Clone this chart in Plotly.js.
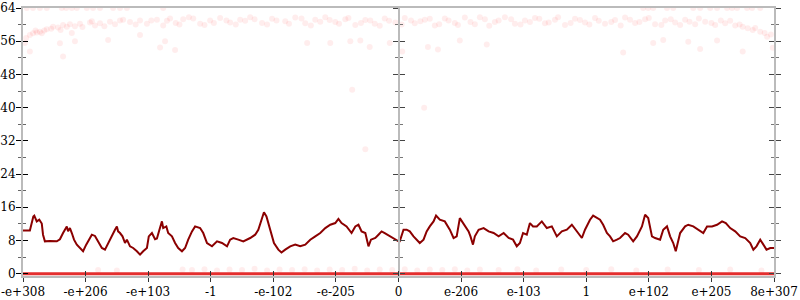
<!DOCTYPE html>
<html>
<head>
<meta charset="utf-8">
<script src="https://cdn.plot.ly/plotly-3.0.1.min.js"></script>
<style>html,body{margin:0;padding:0;background:#fff;}#chart{width:800px;height:300px;}</style>
</head>
<body>
<div id="chart"></div>
<script>
// Tick positions and labels along the x axis
const xTickPos = [0,1,2,3,4,5,6,7,8,9,10,11,12];
const xTickLabels = ["-e+308","-e+206","-e+103","-1","-e-102","-e-205","0","e-206","e-103","1","e+102","e+205","8e+307"];

// Dark red moving line
const lineX = [0,0.11,0.165,0.18,0.22,0.26,0.30,0.32,0.35,0.43,0.54,0.59,0.64,0.67,0.70,0.72,0.75,0.78,0.815,0.86,0.91,0.96,1.01,1.04,1.10,1.15,1.20,1.26,1.31,1.36,1.42,1.47,1.50,1.52,1.55,1.59,1.63,1.66,1.71,1.76,1.82,1.87,1.92,1.98,2.01,2.06,2.11,2.14,2.18,2.22,2.24,2.29,2.32,2.38,2.43,2.48,2.54,2.59,2.64,2.70,2.75,2.83,2.88,2.94,3.02,3.10,3.18,3.26,3.31,3.36,3.44,3.52,3.63,3.71,3.76,3.81,3.85,3.89,3.95,4.01,4.08,4.13,4.19,4.27,4.35,4.43,4.51,4.59,4.67,4.75,4.83,4.91,4.99,5.04,5.09,5.17,5.25,5.31,5.36,5.41,5.47,5.52,5.56,5.63,5.68,5.73,5.78,5.86,5.94,6.0,
  6.02,6.08,6.13,6.18,6.24,6.29,6.34,6.40,6.45,6.50,6.56,6.60,6.66,6.74,6.82,6.88,6.93,6.98,7.03,7.06,7.12,7.15,7.19,7.22,7.28,7.36,7.44,7.52,7.60,7.68,7.76,7.83,7.89,7.94,7.99,8.05,8.10,8.15,8.21,8.29,8.37,8.45,8.53,8.61,8.69,8.77,8.85,8.93,8.98,9.06,9.11,9.19,9.22,9.27,9.33,9.38,9.43,9.49,9.54,9.62,9.67,9.75,9.81,9.89,9.94,9.99,10.05,10.10,10.18,10.23,10.29,10.34,10.39,10.43,10.50,10.58,10.63,10.71,10.79,10.87,10.93,11.01,11.09,11.17,11.23,11.30,11.38,11.46,11.54,11.62,11.67,11.72,11.78,11.83,11.88,11.94,12.0];
const lineY = [10.4,10.4,13.8,14.0,12.6,13.0,12.1,9.4,7.8,7.9,7.8,8.3,9.8,10.8,11.4,10.2,11.0,9.8,8.2,7.0,6.2,5.4,7.0,7.8,9.4,9.1,7.8,6.2,5.8,7.4,9.0,10.6,11.4,10.2,9.8,9.0,7.4,8.2,6.6,6.2,5.4,4.6,5.4,6.2,9.0,9.8,8.3,8.5,10.6,12.6,11.0,11.4,9.8,9.0,7.4,6.2,5.4,6.2,8.2,10.2,11.4,11.0,9.8,7.4,6.6,7.8,7.4,6.6,8.2,8.6,8.2,7.8,8.6,9.4,10.6,13.0,14.8,13.8,10.6,7.4,5.8,5.1,5.8,6.6,7.0,6.6,7.0,8.2,9.0,9.8,11.0,11.8,12.2,13.2,12.2,11.4,9.8,11.4,11.8,10.2,9.8,6.6,8.2,8.6,9.4,10.2,9.8,9.0,8.3,7.8,
  7.8,10.6,10.6,10.2,9.0,8.2,7.4,8.2,10.2,11.4,12.6,14.0,13.0,12.6,10.6,8.6,9.0,13.4,12.2,11.4,10.2,9.0,7.0,9.0,10.6,11.0,10.2,9.8,9.0,9.8,8.6,8.2,6.6,7.4,9.8,9.4,12.2,11.4,11.4,12.6,11.0,11.4,9.0,10.2,10.6,11.8,10.2,8.6,10.6,13.0,14.0,13.4,13.0,11.8,9.8,9.0,7.8,8.2,8.6,9.8,9.4,7.8,9.0,11.4,14.2,13.4,9.0,8.6,8.2,10.6,11.4,9.0,7.4,5.4,9.8,11.4,11.8,11.4,10.6,9.8,11.4,11.4,11.8,12.6,12.2,11.0,10.2,9.0,8.6,7.4,5.8,6.6,8.2,7.0,5.8,6.2,6.2];

// Faint points on the top edge (value 64)
const edgeX = [0.06,0.16,0.27,0.38,0.62,0.69,0.78,0.86,1.02,1.12,1.23,1.44,1.55,1.66,2.24,9.91,9.99,10.07,10.29,10.39,10.71,10.82,10.98,11.09,11.25,11.33,11.41,11.57,11.65,11.78];
const edgeY = [64,64,64,64,64,64,64,64,64,64,64,64,64,64,64,64,64,64,64,64,64,64,64,64,64,64,64,64,64,64];

// Faint upper band of points
const bandX = [0.03,0.11,0.16,0.22,0.27,0.34,0.38,0.48,0.56,0.64,0.75,0.83,0.91,1.07,1.15,1.23,1.39,1.47,1.55,1.71,1.87,1.98,2.14,2.24,2.35,2.44,2.56,2.72,2.83,2.99,3.15,3.31,3.47,3.63,3.82,3.98,4.19,4.35,4.51,4.67,4.83,4.99,5.15,5.31,5.47,5.62,5.78,5.95,6.10,6.26,6.42,6.58,6.74,6.90,7.06,7.22,7.38,7.54,7.70,7.86,8.02,8.18,8.34,8.50,8.66,8.82,8.98,9.14,9.30,9.46,9.62,9.78,9.94,10.10,10.26,10.42,10.58,10.74,10.90,11.06,11.22,11.38,11.50,11.58,11.66,11.78,11.89];
const bandY = [55.6,57.5,57.9,58.1,58.3,58.6,58.9,59.5,59.3,59.9,60.1,59.6,60.2,60.5,59.8,60.3,60.7,60.1,61.0,60.6,61.0,60.2,61.2,59.8,61.5,60.4,61.3,61.5,60.2,61.0,61.6,60.5,61.2,61.8,60.4,61.4,60.8,61.7,60.3,61.2,61.8,60.6,61.3,59.9,61.1,60.2,61.5,60.5,61.6,60.3,61.2,59.8,61.5,60.4,61.7,60.1,61.3,60.6,61.8,60.2,61.0,61.6,60.3,61.2,59.9,61.4,60.5,61.6,60.2,61.1,61.7,60.4,61.3,60.1,61.0,60.5,61.2,60.1,60.7,59.9,60.3,59.8,59.5,59.1,58.7,58.3,57.1];
const band2X = [0.05,0.2,0.3,0.45,0.6,0.7,0.95,1.1,1.3,1.6,1.8,2.05,2.3,2.5,2.65,2.9,3.05,3.25,3.4,3.55,3.7,3.9,4.05,4.25,4.45,4.6,4.75,4.9,5.05,5.2,5.4,5.55,5.7,5.85,6.05,6.2,6.35,6.5,6.65,6.8,6.95,7.15,7.3,7.45,7.6,7.8,7.95,8.1,8.25,8.4,8.55,8.75,8.9,9.05,9.2,9.4,9.55,9.7,9.85,10.0,10.2,10.35,10.5,10.65,10.8,11.0,11.15,11.3,11.45,11.7,11.85,11.95];
const band2Y = [56.8,58.6,57.9,59.0,58.7,59.5,59.4,60.8,59.6,61.2,60.0,61.0,60.9,60.0,61.8,59.9,60.4,61.0,60.0,60.9,61.3,60.0,61.0,60.2,61.5,59.8,60.7,61.1,60.2,61.6,60.4,61.0,59.7,60.9,60.0,61.0,60.8,61.4,60.1,61.0,59.9,60.6,61.8,59.7,61.0,61.3,60.0,60.6,61.4,60.5,61.8,60.4,61.1,60.0,60.9,60.6,59.8,61.2,60.6,61.6,59.9,61.3,59.9,60.7,61.5,60.4,61.0,60.9,60.0,59.2,58.0,57.6];

// Sparse faint points below the band
const sparseX = [0.11,0.59,0.64,0.78,0.83,1.36,1.87,2.19,2.27,2.43,4.54,4.91,5.23,5.39,5.54,5.86,6.06,6.47,6.63,6.98,7.41,9.59,10.07,10.23,10.63,10.82,11.09,11.50,11.98,5.26,6.41,5.47];
const sparseY = [53.5,55.5,52.3,58.0,56.0,56.3,57.5,54.5,56.0,53.9,55.6,55.6,56.0,56.2,54.6,55.6,53.5,54.6,54.0,56.2,55.2,53.3,55.6,56.3,55.9,54.1,56.2,53.5,54.4,44.3,40.0,30.0];

// Faint points just above zero
const lowX = [1.2,1.5,2.55,2.7,2.9,3.1,3.3,3.5,3.7,3.9,4.1,4.3,4.5,4.7,4.9,5.1,5.3,5.5,5.7,5.9,6.1,6.3,6.5,6.7,6.9,7.1,7.3,7.6,7.9,8.2,8.6,9.0,9.4,9.8,10.3,10.8,11.3,11.8];
const lowY = [0.9,0.8,1.0,0.9,1.1,0.8,1.0,0.9,1.2,0.8,1.0,0.9,1.1,0.8,1.0,0.9,1.2,0.8,1.0,0.9,1.1,0.8,1.0,0.9,1.1,0.8,1.0,0.9,1.1,0.8,1.0,0.9,1.1,0.8,1.0,0.9,1.0,0.8];

// Dense points at zero
const zeroX = [0,1,2,3,4,5,6,7,8,9,10,11,12];
const zeroY = [0,0,0,0,0,0,0,0,0,0,0,0,0];

const faint = {color:'rgba(255,0,0,0.07)', size:6, line:{width:0}};
const pts = (x, y) => ({x:x, y:y, type:'scatter', mode:'markers', marker:faint, hoverinfo:'skip', cliponaxis:true});
const axisHolder = (xa, ya) => ({x:[], y:[], type:'scatter', mode:'markers', xaxis:xa, yaxis:ya, hoverinfo:'skip'});
const traces = [
  pts(bandX, bandY), pts(band2X, band2Y), pts(edgeX, edgeY), pts(sparseX, sparseY), pts(lowX, lowY),
  {x:zeroX, y:zeroY, type:'scatter', mode:'lines', line:{color:'rgba(226,28,28,0.92)', width:3}, hoverinfo:'skip'},
  {x:lineX, y:lineY, type:'scatter', mode:'lines', line:{color:'#8b0000', width:2}, hoverinfo:'skip'},
  axisHolder('x2','y'), axisHolder('x','y2'), axisHolder('x','y3'), axisHolder('x','y4'), axisHolder('x','y5'), axisHolder('x','y6')
];

const tickFont = {family:'DejaVu Serif', size:12, color:'#000'};
const yRange = [-0.55, 64];
const yBase = {range:yRange, tick0:0, dtick:8, showgrid:false, zeroline:false, fixedrange:true};
const layout = {
  width:800, height:300,
  margin:{l:23, r:26, t:8, b:24, pad:0},
  paper_bgcolor:'#fff', plot_bgcolor:'#fff',
  showlegend:false,
  xaxis:{range:[0,12], tickmode:'array', tickvals:xTickPos, ticktext:xTickLabels, ticks:'outside', ticklen:4, tickwidth:1, tickcolor:'#333',
    showline:true, mirror:true, linecolor:'#bbb', linewidth:2, showgrid:false, zeroline:false, tickfont:tickFont, fixedrange:true},
  xaxis2:{overlaying:'x', anchor:'y', range:[0,12], tickmode:'array', tickvals:xTickPos, ticks:'inside', ticklen:5, tickwidth:1, tickcolor:'#333',
    showticklabels:false, showline:false, showgrid:false, zeroline:false, fixedrange:true},
  yaxis:Object.assign({}, yBase, {ticks:'outside', ticklen:5, tickwidth:1, tickcolor:'#000', ticklabelstandoff:-2,
    minor:{dtick:4, tick0:0, ticks:'outside', ticklen:3, tickcolor:'#666', showgrid:false},
    showline:true, linecolor:'#bbb', linewidth:2, tickfont:tickFont}),
  yaxis2:Object.assign({}, yBase, {overlaying:'y', side:'left', anchor:'x', ticks:'inside', ticklen:5, tickwidth:1, tickcolor:'#000',
    minor:{dtick:4, tick0:0, ticks:'inside', ticklen:3, tickcolor:'#666', showgrid:false}, showticklabels:false, showline:false}),
  yaxis3:Object.assign({}, yBase, {overlaying:'y', side:'left', anchor:'free', position:0.5, ticks:'outside', ticklen:5, tickwidth:1, tickcolor:'#444',
    minor:{dtick:4, tick0:0, ticks:'outside', ticklen:3, tickcolor:'#777', showgrid:false}, showticklabels:false, showline:true, linecolor:'#bbb', linewidth:2}),
  yaxis4:Object.assign({}, yBase, {overlaying:'y', side:'left', anchor:'free', position:0.5, ticks:'inside', ticklen:5, tickwidth:1, tickcolor:'#444',
    minor:{dtick:4, tick0:0, ticks:'inside', ticklen:3, tickcolor:'#777', showgrid:false}, showticklabels:false, showline:false}),
  yaxis5:Object.assign({}, yBase, {overlaying:'y', side:'right', anchor:'x', ticks:'outside', ticklen:5, tickwidth:1, tickcolor:'#444',
    minor:{dtick:4, tick0:0, ticks:'outside', ticklen:3, tickcolor:'#777', showgrid:false}, showticklabels:false, showline:true, linecolor:'#bbb', linewidth:2}),
  yaxis6:Object.assign({}, yBase, {overlaying:'y', side:'right', anchor:'x', ticks:'inside', ticklen:5, tickwidth:1, tickcolor:'#444',
    minor:{dtick:4, tick0:0, ticks:'inside', ticklen:3, tickcolor:'#777', showgrid:false}, showticklabels:false, showline:false})
};

Plotly.newPlot('chart', traces, layout, {staticPlot:true, displayModeBar:false});
</script>
</body>
</html>
